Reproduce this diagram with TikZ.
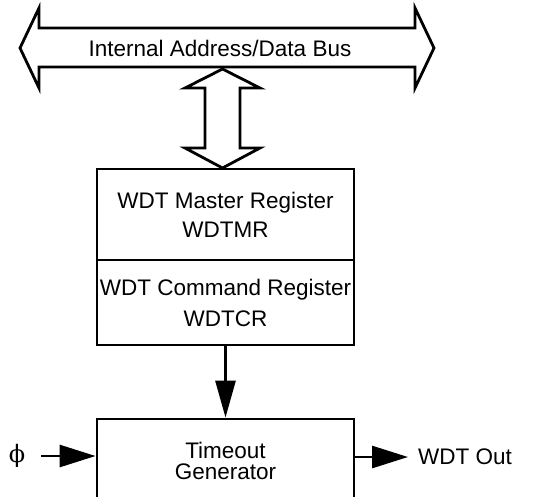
\documentclass[tikz,border=0pt]{standalone}
\usepackage{fontspec}
\setmainfont{Liberation Sans}
\newfontfamily\phifont{DejaVu Serif}
\usetikzlibrary{arrows.meta}
\begin{document}
\begin{tikzpicture}[x=1pt,y=-1pt,
  outline/.style={line width=2.8pt},
  regbox/.style={draw,line width=2.8pt,minimum width=257pt,align=center,inner sep=0pt},
  lbl/.style={font=\fontsize{22.5}{29}\selectfont,inner sep=0pt},
  sig/.style={line width=2.8pt,-{Triangle[length=36pt,width=22pt]}},
  down/.style={line width=2.8pt,-{Triangle[length=37pt,width=20pt]}}]
\useasboundingbox (0,0) rectangle (553,496);
\begin{scope}
\clip (0,0) rectangle (553,496);
% bus
\draw[outline] (20,48) -- (39,8) -- (39,28) -- (415,28) -- (415,8) -- (434,48)
  -- (415,88) -- (415,67) -- (39,67) -- (39,88) -- cycle;
\node[lbl] (bus) at (220,48) {Internal Address/Data Bus};
% vertical double arrow
\draw[outline] (222.5,69) -- (260,88) -- (240,88) -- (240,148) -- (260,148) -- (222.5,168)
  -- (185,148) -- (205,148) -- (205,88) -- (185,88) -- cycle;
% registers
\node[regbox,minimum height=91pt,font=\fontsize{22.5}{29}\selectfont] (wdtmr) at (225.5,214.5)
  {WDT Master Register\\WDTMR};
\node[regbox,minimum height=85pt,font=\fontsize{22.5}{31}\selectfont] (wdtcr) at (225.5,302.5)
  {WDT Command Register\\WDTCR};
% timeout
\node[regbox,minimum height=84pt,font=\fontsize{22.5}{21}\selectfont] (tmo) at (225.5,461)
  {Timeout\\Generator};
\draw[down] (wdtcr.south) -- (tmo.north);
% phi input
\node[inner sep=0pt,font=\fontsize{24}{24}\phifont] (phi) at (17,456) {ϕ};
\draw[sig] (41,456) -- (phi.center -| tmo.west);
% output
\node[lbl,anchor=west] (out) at (418,457) {WDT Out};
\draw[sig] (tmo.east |- out.west) -- ([xshift=-10pt]out.west);
\end{scope}
\end{tikzpicture}
\end{document}
